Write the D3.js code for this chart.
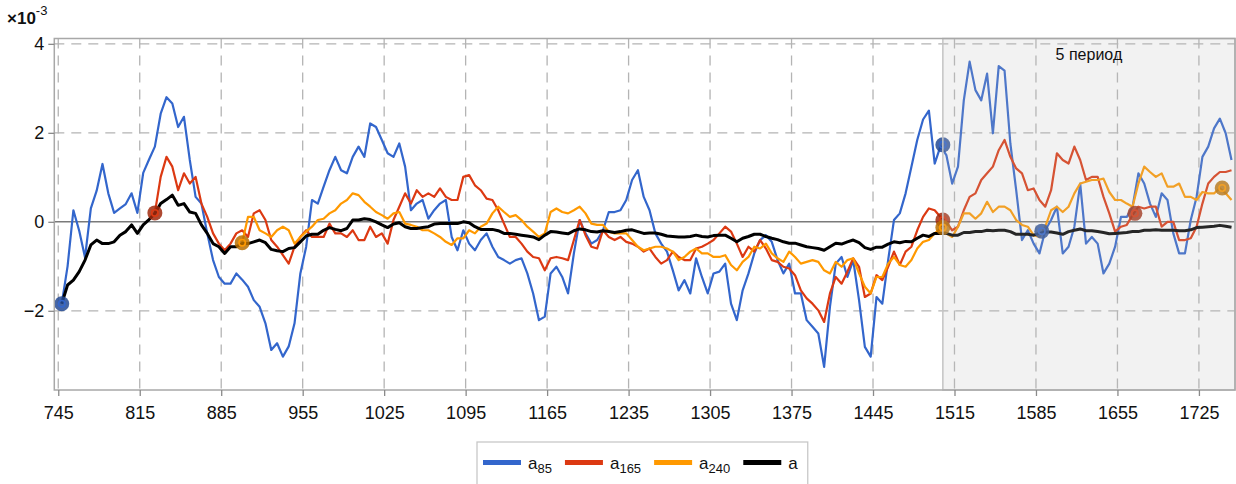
<!DOCTYPE html>
<html>
<head>
<meta charset="utf-8">
<script src="https://cdn.jsdelivr.net/npm/d3@7"></script>
<style>
    body { margin: 0; background: #fff; }
    svg { display: block; font-family: "Liberation Sans", Arial, sans-serif; }
</style>
</head>
<body>
<svg id="chart" width="1236" height="484"></svg>
<script>
// x step between samples, series start points
const xStep = 5;
const a85Start = 748;
const a165Start = 828;
const a240Start = 903;
const aStart = 748;

// values x 10^-3
const a85Values = [
    -1.84,-1.0,0.26,-0.2,-0.8,0.3,0.7,1.3,0.64,0.2, 0.3,0.4,0.64,0.2,1.1,1.4,1.69,2.43,2.8,2.66, 2.13,2.36,1.39,0.56,0.41,-0.26,-0.86,-1.24,-1.39,
    -1.39,-1.16,-1.3,-1.46,-1.76,-1.91,-2.28,-2.88,-2.73,-3.03, -2.8,-2.28,-1.16,-0.56,0.49,0.41,0.79,1.16,1.46,1.16, 1.09,1.46,1.69,1.46,2.21,2.13,1.84,1.54,1.46,
    1.76,1.24,0.26,0.41,0.49,0.07,0.26,0.41,0.49,-0.34, -0.64,-0.19,-0.49,-0.64,-0.41,-0.26,-0.56,-0.79,-0.86,-0.94, -0.86,-0.82,-1.16,-1.61,-2.21,-2.13,-1.16,-1.01,-1.24,-1.61,
    -0.71,0.04,-0.26,-0.49,-0.41,-0.19,0.22,0.22,0.26,0.49, 0.94,1.16,0.56,0.26,-0.26,-0.49,-0.67,-1.09,-1.54,-1.31, -1.61,-0.82,-1.24,-1.61,-1.16,-1.12,-0.94,-1.84,-2.21,
    -1.54,-1.16,-0.71,-0.41,-0.3,-0.45,-0.86,-1.16,-0.94,-1.61, -1.61,-2.21,-2.36,-2.51,-3.26,-1.91,-0.94,-0.79,-1.24,-0.86, -1.76,-2.81,-3.03,-1.69,-1.84,-0.86,0.04,0.19,0.64,
    1.24,1.84,2.3,2.5,1.31,1.7,1.5,0.86,1.24,2.73, 3.6,2.96,2.73,3.33,1.99,3.5,3.4,1.76,0.71,-0.41, -0.19,-0.49,-0.71,-0.19,0.04,0.34,-0.71,-0.56,-0.11,
    0.86,-0.49,-0.34,-0.49,-1.16,-0.94,-0.56,0.11,0.11,0.34, 1.09,0.86,0.41,0.11,0.64,0.49,-0.26,-0.71,-0.71,0.04, 0.56,1.46,1.69,2.1,2.32,1.99,1.39
];
const a165Values = [
    0.2,1.01,1.46,1.24,0.71,1.09,0.86,1.01,0.41,0.11,-0.26,-0.49,-0.64,
    -0.49,-0.26,-0.19,-0.34,0.19,0.26,0.04,-0.41,-0.56,-0.75, -0.94,-0.56,-0.34,-0.19,-0.34,-0.34,-0.34,-0.04,-0.26,-0.26, -0.34,-0.19,-0.41,-0.41,-0.11,-0.34,-0.26,-0.49,0.04,
    0.34,0.64,0.41,0.71,0.56,0.64,0.56,0.75,0.56,0.49, 0.49,1.01,1.05,0.82,0.71,0.52,0.49,0.26,-0.04,-0.34, -0.34,-0.49,-0.67,-0.79,-0.82,-1.09,-0.82,-0.79,-0.82,-0.86,
    -0.41,0.04,-0.3,-0.56,-0.6,-0.19,-0.34,-0.41,-0.34,-0.45, -0.49,-0.56,-0.67,-0.6,-0.79,-0.94,-0.86,-0.67,-0.79,-0.86, -0.86,-0.6,-0.56,-0.49,-0.41,-0.26,-0.11,-0.22,-0.49,
    -0.79,-0.56,-0.67,-0.41,-0.6,-0.86,-0.9,-1.01,-1.05,-1.2, -1.54,-1.72,-1.84,-1.99,-2.25,-1.61,-1.24,-1.39,-1.12,-0.82, -1.01,-1.69,-1.61,-1.2,-1.31,-1.01,-0.67,-0.97,-0.67,
    -0.56,-0.19,0.11,0.3,0.26,0.11,0,-0.19,-0.11,0.26, 0.56,0.64,0.94,1.09,1.24,1.61,1.84,1.46,1.2,1.09, 0.71,0.75,0.49,0.34,0.71,1.54,1.39,1.31,1.69,
    1.39,0.94,1.01,1.01,0.56,0.19,-0.22,-0.11,-0.07,0.15, 0.34,0.3,0.34,0.34,-0.11,0,0,-0.41,-0.41,-0.37, -0.11,0.41,0.86,1.01,1.12,1.12,1.16
];
const a240Values = [
    -0.47,0.11,0.11,-0.19,-0.26,-0.34,-0.19,-0.11,-0.19,-0.49, -0.34,-0.22,-0.11,0.04,0.07,0.19,0.26,0.41,0.49,0.64, 0.6,0.45,0.34,0.22,0.15,0.07,0.19,
    0.22,-0.04,-0.07,-0.11,-0.19,-0.19,-0.26,-0.34,-0.45,-0.52, -0.37,-0.37,-0.19,-0.26,-0.11,-0.04,0.19,0.34,0.22,0.11, 0.15,0.04,-0.11,-0.22,-0.34,-0.26,0.22,0.3,0.22,0.19,
    0.26,0.34,0.19,-0.04,-0.07,-0.07,-0.22,-0.26,-0.26,-0.26, -0.41,-0.56,-0.64,-0.6,-0.56,-0.56,-0.6,-0.67,-0.86,-0.79, -0.67,-0.6,-0.71,-0.71,-0.79,-0.79,-0.75,-0.97,-1.09,
    -0.9,-0.79,-0.56,-0.6,-0.49,-0.71,-0.82,-0.9,-0.67,-0.79, -0.94,-0.9,-0.86,-0.9,-1.09,-1.16,-0.9,-1.01,-0.86,-0.82, -1.16,-1.46,-1.61,-1.24,-1.24,-0.94,-0.79,-0.97,-1.01,
    -0.86,-0.6,-0.45,-0.41,-0.26,-0.15,-0.26,-0.34,-0.11,0.19, 0.19,0.07,0.19,0.45,0.22,0.34,0.34,0.26,0.04,-0.07, -0.11,-0.3,-0.34,-0.11,0.26,0.34,0.22,0.34,0.64,
    0.86,0.9,0.94,0.94,0.97,0.67,0.49,0.49,0.41,0.34, 0.86,1.24,1.12,1.01,1.09,0.79,0.79,0.86,0.56,0.56, 0.49,0.67,0.64,0.64,0.75,0.64,0.49
];
const aValues = [
    -1.84,-1.42,-1.31,-1.12,-0.86,-0.52,-0.41,-0.49,-0.49,-0.45, -0.3,-0.22,-0.07,-0.26,-0.07,0.05,0.19,0.41,0.5,0.6, 0.37,0.41,0.22,0.19,-0.07,-0.26,-0.49,-0.56,-0.71,
    -0.56,-0.56,-0.49,-0.49,-0.45,-0.41,-0.47,-0.62,-0.65,-0.67, -0.6,-0.58,-0.45,-0.32,-0.28,-0.28,-0.19,-0.13,-0.17,-0.2, -0.15,0.04,0.04,0.07,0.05,0,-0.07,-0.13,-0.05,
    -0.02,-0.11,-0.15,-0.15,-0.13,-0.11,-0.05,-0.04,-0.04,-0.04, -0.04,0,-0.02,-0.11,-0.17,-0.17,-0.17,-0.2,-0.26,-0.26, -0.28,-0.3,-0.32,-0.34,-0.4,-0.3,-0.22,-0.23,-0.25,-0.27,
    -0.2,-0.16,-0.18,-0.22,-0.23,-0.2,-0.22,-0.24,-0.22,-0.19, -0.18,-0.22,-0.26,-0.25,-0.25,-0.28,-0.32,-0.33,-0.34,-0.34, -0.33,-0.3,-0.33,-0.34,-0.31,-0.3,-0.3,-0.37,-0.45,
    -0.37,-0.33,-0.28,-0.28,-0.33,-0.37,-0.4,-0.45,-0.48,-0.48, -0.52,-0.56,-0.58,-0.6,-0.64,-0.56,-0.48,-0.5,-0.45,-0.41, -0.47,-0.58,-0.62,-0.57,-0.57,-0.5,-0.45,-0.47,-0.44,
    -0.45,-0.37,-0.3,-0.33,-0.26,-0.26,-0.26,-0.3,-0.3,-0.24, -0.24,-0.22,-0.22,-0.19,-0.2,-0.19,-0.19,-0.22,-0.28,-0.28, -0.28,-0.3,-0.26,-0.23,-0.23,-0.25,-0.28,-0.22,-0.19,
    -0.16,-0.2,-0.2,-0.22,-0.24,-0.27,-0.26,-0.25,-0.24,-0.22, -0.22,-0.19,-0.19,-0.18,-0.19,-0.19,-0.19,-0.2,-0.2,-0.18, -0.13,-0.12,-0.11,-0.1,-0.08,-0.1,-0.12
];

// marked points [x, value]
const a85Marks = [[748, -1.84], [1505, 1.73], [1590, -0.21]];
const a165Marks = [[828, 0.2], [1505, 0.04], [1670, 0.19]];
const a240Marks = [[903, -0.47], [1505, -0.13], [1745, 0.76]];

const xTicks = [745, 815, 885, 955, 1025, 1095, 1165, 1235, 1305, 1375, 1445, 1515, 1585, 1655, 1725];
const yTicks = [-2, 0, 2, 4];
const periodStart = 1505;
const periodLabel = '5 период';

function drawChart(){
    let svg = d3.select('#chart');

    // plot box
    let margL = 54.3;
    let margR = 1235;
    let margT = 38.5;
    let margB = 390;

    let xScale = d3.scaleLinear()
                    .domain([741.6, 1756])
                    .range([margL, margR]);
    let yScale = d3.scaleLinear()
                    .domain([-3.78, 4.12])
                    .range([margB, margT]);

    let series = [
        {name: 'a', sub: '85', start: a85Start, values: a85Values, marks: a85Marks, color: '#3366cc', width: 2.2},
        {name: 'a', sub: '165', start: a165Start, values: a165Values, marks: a165Marks, color: '#dc3912', width: 2.2},
        {name: 'a', sub: '240', start: a240Start, values: a240Values, marks: a240Marks, color: '#ff9900', width: 2.2},
        {name: 'a', sub: '', start: aStart, values: aValues, marks: [], color: '#000000', width: 3}
    ];

    svg.append('defs').append('clipPath')
        .attr('id', 'plotClip')
        .append('rect')
        .attr('x', margL)
        .attr('y', margT)
        .attr('width', margR - margL)
        .attr('height', margB - margT);

    // dashed grid
    let gridGrp = svg.append('g').attr('class', 'gridGrp');
    gridGrp.selectAll('.vGrid')
        .data(xTicks)
        .enter()
        .append('line')
        .attr('x1', d => xScale(d))
        .attr('x2', d => xScale(d))
        .attr('y1', margT)
        .attr('y2', margB)
        .attr('stroke', '#b4b4b4')
        .attr('stroke-width', 1.3)
        .attr('stroke-dasharray', '10,7');
    gridGrp.selectAll('.hGrid')
        .data(yTicks.filter(d => d !== 0))
        .enter()
        .append('line')
        .attr('x1', margL)
        .attr('x2', margR)
        .attr('y1', d => yScale(d))
        .attr('y2', d => yScale(d))
        .attr('stroke', '#b4b4b4')
        .attr('stroke-width', 1.3)
        .attr('stroke-dasharray', '10,7');

    // zero line
    svg.append('line')
        .attr('x1', margL)
        .attr('x2', margR)
        .attr('y1', yScale(0))
        .attr('y2', yScale(0))
        .attr('stroke', '#7a7a7a')
        .attr('stroke-width', 1.5);

    // lines
    let lineGrp = svg.append('g').attr('clip-path', 'url(#plotClip)');
    series.forEach(function(s){
        let line = d3.line()
            .x((d, i) => xScale(s.start + i * xStep))
            .y(d => yScale(d));
        lineGrp.append('path')
            .datum(s.values)
            .attr('d', line)
            .attr('fill', 'none')
            .attr('stroke', s.color)
            .attr('stroke-width', s.width)
            .attr('stroke-linejoin', 'round');
    });

    // point markers
    let markGrp = svg.append('g');
    series.forEach(function(s){
        let dark = d3.color(s.color).darker(0.9);
        let g = markGrp.selectAll(null)
            .data(s.marks)
            .enter()
            .append('g')
            .attr('transform', d => 'translate(' + xScale(d[0]) + ',' + yScale(d[1]) + ')');
        g.append('circle')
            .attr('r', 7.5)
            .attr('fill', dark)
            .attr('fill-opacity', 0.85);
        g.append('circle')
            .attr('r', 3.2)
            .attr('fill', 'none')
            .attr('stroke', s.color)
            .attr('stroke-width', 1.6);
    });

    // shaded period
    svg.append('rect')
        .attr('x', xScale(periodStart))
        .attr('y', margT)
        .attr('width', margR - xScale(periodStart))
        .attr('height', margB - margT)
        .attr('fill', '#bdbdbd')
        .attr('fill-opacity', 0.2)
        .attr('stroke', '#c4c4c4')
        .attr('stroke-width', 1.5);
    svg.append('text')
        .attr('x', (xScale(periodStart) + margR) / 2)
        .attr('y', 60)
        .attr('text-anchor', 'middle')
        .attr('font-size', 16)
        .attr('fill', '#111')
        .text(periodLabel);

    // frame
    svg.append('rect')
        .attr('x', margL)
        .attr('y', margT)
        .attr('width', margR - margL)
        .attr('height', margB - margT)
        .attr('fill', 'none')
        .attr('stroke', '#a8a8a8')
        .attr('stroke-width', 1.5);

    // axes
    let yAxis = svg.append('g')
        .attr('transform', 'translate(' + margL + ',0)')
        .call(d3.axisLeft(yScale).tickValues(yTicks).tickSize(6).tickPadding(4));
    let xAxis = svg.append('g')
        .attr('transform', 'translate(0,' + margB + ')')
        .call(d3.axisBottom(xScale).tickValues(xTicks).tickFormat(d3.format('d')).tickSize(6).tickPadding(10));
    [yAxis, xAxis].forEach(function(ax){
        ax.select('.domain').remove();
        ax.selectAll('line').attr('stroke', '#8a8a8a').attr('stroke-width', 1.3);
        ax.selectAll('text')
            .attr('font-size', 18)
            .attr('font-family', '"Liberation Sans", Arial, sans-serif')
            .attr('fill', '#111');
    });

    // multiplier label
    let mult = svg.append('text')
        .attr('x', 7)
        .attr('y', 24)
        .attr('font-size', 17)
        .attr('font-weight', 'bold')
        .attr('fill', '#111');
    mult.append('tspan').text('×10');
    mult.append('tspan')
        .attr('font-size', 13)
        .attr('font-weight', 'normal')
        .attr('dy', -9)
        .text('-3');

    drawLegend(svg, series);
}

function drawLegend(svg, series){
    let legendGrp = svg.append('g').attr('class', 'legendGrp');
    let box = legendGrp.append('rect')
        .attr('x', 477)
        .attr('y', 442)
        .attr('height', 60)
        .attr('fill', '#fff')
        .attr('stroke', '#c8c8c8')
        .attr('stroke-width', 1.3);

    let xPos = 483;
    let yMid = 462.5;
    series.forEach(function(s){
        legendGrp.append('rect')
            .attr('x', xPos)
            .attr('y', yMid - 2.5)
            .attr('width', 38)
            .attr('height', 5)
            .attr('fill', s.color);
        xPos += 38 + 7;
        let label = legendGrp.append('text')
            .attr('x', xPos)
            .attr('y', yMid + 6)
            .attr('font-size', 17)
            .attr('fill', '#111');
        label.append('tspan').text(s.name);
        if (s.sub) {
            label.append('tspan')
                .attr('font-size', 13)
                .attr('dy', 4)
                .text(s.sub);
        }
        xPos += label.node().getComputedTextLength() + 13;
    });
    box.attr('width', xPos - 13 + 10 - 477);
}

drawChart();
</script>
</body>
</html>
